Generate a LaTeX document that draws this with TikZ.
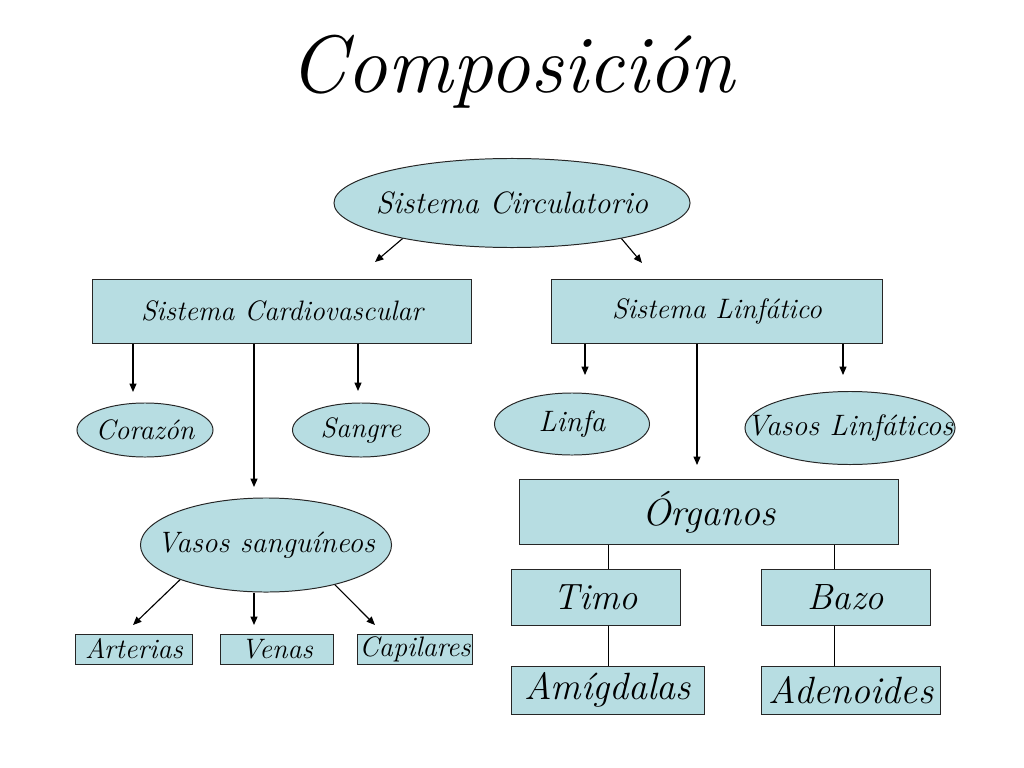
\documentclass[tikz,border=0pt]{standalone}
\usepackage{tikz}
\usetikzlibrary{shapes.geometric, arrows.meta}
\definecolor{celeste}{RGB}{183,221,226}
\newcommand{\tam}[1]{\fontsize{#1}{#1}\selectfont\itshape}
\tikzset{
	>={Triangle[length=6pt, width=5pt]},
	ovalo/.style={ellipse, draw=black!85, fill=celeste, line width=0.7pt, inner sep=0pt},
	caja/.style={rectangle, draw=black!85, fill=celeste, line width=0.7pt, inner sep=0pt},
	flecha/.style={->, line width=0.8pt},
	linea/.style={line width=0.7pt}}

\begin{document}
\begin{tikzpicture}[x=0.025cm, y=-0.025cm]
		\useasboundingbox (0,0) rectangle (1024,768);
		
		\node[font=\tam{58}] (titulo) at (512,72) {Composición};
		
		\node[ovalo, minimum width=8.9cm, minimum height=2.225cm,
			label={[font=\tam{22}]center:Sistema Circulatorio}] (circ) at (512,203) {};
		\node[caja, minimum width=9.45cm, minimum height=1.6cm, font=\tam{20}] (scv) at (282,311) {Sistema Cardiovascular};
		\node[caja, minimum width=8.275cm, minimum height=1.6cm, font=\tam{20}] (slin) at (717,311) {Sistema Linfático};
		
		\node[ovalo, minimum width=3.4cm, minimum height=1.35cm,
			label={[font=\tam{20}]center:Corazón}] (cor) at (145,430) {};
		\node[ovalo, minimum width=3.425cm, minimum height=1.35cm,
			label={[font=\tam{20}]center:Sangre}] (san) at (361,430) {};
		\node[ovalo, minimum width=3.875cm, minimum height=1.55cm,
			label={[font=\tam{21}]center:Linfa}] (linfa) at (572,424) {};
		\node[ovalo, minimum width=5.25cm, minimum height=1.825cm,
			label={[font=\tam{21}]center:Vasos Linfáticos}] (vlin) at (850,428) {};
		
		\node[ovalo, minimum width=6.275cm, minimum height=2.35cm,
			label={[font=\tam{21}]center:Vasos sanguíneos}] (vsan) at (266,545) {};
		\node[caja, minimum width=2.9cm, minimum height=0.75cm, font=\tam{20}] (art) at (134,649) {Arterias};
		\node[caja, minimum width=2.825cm, minimum height=0.75cm, font=\tam{20}] (ven) at (277,649) {Venas};
		\node[caja, minimum width=2.875cm, minimum height=0.75cm, font=\tam{20}] (cap) at (415,649) {Capilares};
		
		\node[caja, minimum width=9.45cm, minimum height=1.625cm, font=\tam{27}] (org) at (709,512) {Órganos};
		\node[caja, minimum width=4.225cm, minimum height=1.4cm, font=\tam{26}] (tim) at (596,597) {Timo};
		\node[caja, minimum width=4.225cm, minimum height=1.4cm, font=\tam{26}] (baz) at (846,597) {Bazo};
		\node[caja, minimum width=4.8cm, minimum height=1.2cm, font=\tam{27}] (ami) at (608,690) {Amígdalas};
		\node[caja, minimum width=4.45cm, minimum height=1.2cm, font=\tam{27}] (ade) at (851,690) {Adenoides};
		
		% puntas de las flechas
		\coordinate (t1) at (375,262);
		\coordinate (t2) at (642,263);
		\coordinate (t3) at (133,392);
		\coordinate (t4) at (254,487);
		\coordinate (t5) at (358,391);
		\coordinate (t6) at (585,375);
		\coordinate (t7) at (697,465);
		\coordinate (t8) at (843,375);
		\coordinate (t9) at (133,625);
		\coordinate (t10) at (254,625);
		\coordinate (t11) at (375,625);
		\coordinate (eje) at (834,0);
		
		\draw[flecha] (circ.198) -- (t1);
		\draw[flecha] (circ.342) -- (t2);
		\draw[flecha] (scv.south -| t3) -- (t3);
		\draw[flecha] (scv.south -| t4) -- (t4);
		\draw[flecha] (scv.south -| t5) -- (t5);
		\draw[flecha] (slin.south -| t6) -- (t6);
		\draw[flecha] (slin.south -| t7) -- (t7);
		\draw[flecha] (slin.south -| t8) -- (t8);
		\draw[flecha] (vsan.202) -- (t9);
		\draw[flecha] (vsan.south -| t10) -- (t10);
		\draw[flecha] (vsan.330) -- (t11);
		
		\draw[linea] (org.south -| ami) -- (tim.north -| ami);
		\draw[linea] (tim.south -| ami) -- (ami.north);
		\draw[linea] (org.south -| eje) -- (baz.north -| eje);
		\draw[linea] (baz.south -| eje) -- (ade.north -| eje);
		
	\end{tikzpicture}
\end{document}
